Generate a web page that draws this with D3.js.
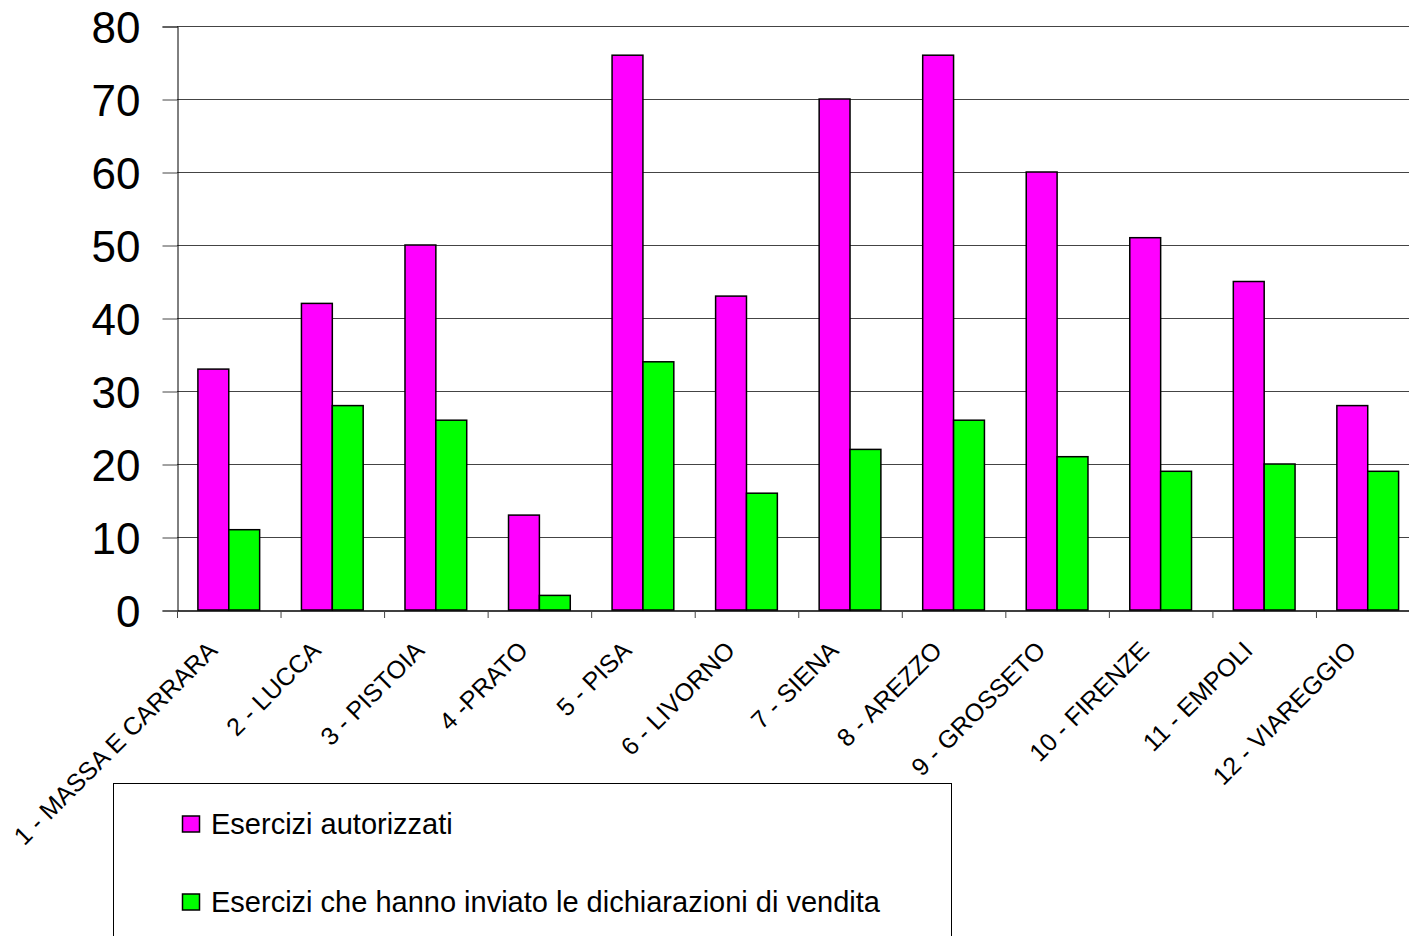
<!DOCTYPE html>
<html>
<head>
<meta charset="utf-8">
<script src="https://cdn.jsdelivr.net/npm/d3@7"></script>
<style>
  body { margin: 0; background: #fff; }
  text { font-family: Arial, "Liberation Sans", sans-serif; }
</style>
</head>
<body>
<script>
var categories = ["1 - MASSA E CARRARA", "2 - LUCCA", "3 - PISTOIA", "4 -PRATO", "5 - PISA",
  "6 - LIVORNO", "7 - SIENA", "8 - AREZZO", "9 - GROSSETO", "10 - FIRENZE", "11 - EMPOLI", "12 - VIAREGGIO"];
var autorizzati = [33, 42, 50, 13, 76, 43, 70, 76, 60, 51, 45, 28];
var dichiarazioni = [11, 28, 26, 2, 34, 16, 22, 26, 21, 19, 20, 19];
var seriesNames = ["Esercizi autorizzati", "Esercizi che hanno inviato le dichiarazioni di vendita"];
var seriesColors = ["#ff00ff", "#00ff00"];
var yTicks = [0, 10, 20, 30, 40, 50, 60, 70, 80];

window.onload = function() {
  var svg = d3.select("body").append("svg")
    .attr("width", 1409)
    .attr("height", 936);

  var left = 177, right = 1419.5, top = 26, bottom = 610;

  var xScale = d3.scaleBand().domain(categories).range([left, right]);
  var xInner = d3.scaleBand().domain([0, 1]).range([0, xScale.bandwidth()])
    .paddingInner(0).paddingOuter(0.677);
  var yScale = d3.scaleLinear().domain([0, 80]).range([bottom, top]);

  // gridlines
  svg.append("g").selectAll("line")
    .data(yTicks.filter(function(d) { return d > 0; }))
    .enter().append("line")
    .attr("x1", left).attr("x2", right)
    .attr("y1", function(d) { return yScale(d) + 0.5; })
    .attr("y2", function(d) { return yScale(d) + 0.5; })
    .attr("stroke", "#444").attr("stroke-width", 1);

  // y axis
  var yAxis = d3.axisLeft(yScale).tickValues(yTicks).tickSize(15).tickPadding(22);
  var gy = svg.append("g").attr("transform", "translate(" + (left + 0.5) + ",0.5)").call(yAxis);
  gy.select(".domain").attr("stroke", "#000");
  gy.selectAll(".tick line").attr("stroke", "#444");
  gy.selectAll(".tick text").attr("font-size", 44).attr("fill", "#000")
    .attr("font-family", "Arial, 'Liberation Sans', sans-serif").attr("dy", "0.36em");

  // bars
  var data = categories.map(function(c, i) {
    return { cat: c, vals: [autorizzati[i], dichiarazioni[i]] };
  });
  var groups = svg.append("g").selectAll("g")
    .data(data).enter().append("g")
    .attr("transform", function(d) { return "translate(" + xScale(d.cat) + ",0)"; });
  groups.selectAll("rect")
    .data(function(d) { return d.vals.map(function(v, k) { return { k: k, v: v }; }); })
    .enter().append("rect")
    .attr("x", function(d) { return xInner(d.k); })
    .attr("width", xInner.bandwidth())
    .attr("y", function(d) { return yScale(d.v); })
    .attr("height", function(d) { return bottom - yScale(d.v); })
    .attr("fill", function(d) { return seriesColors[d.k]; })
    .attr("stroke", "#000").attr("stroke-width", 1.5);

  // x axis
  var xAxis = d3.axisBottom(xScale).tickSize(0).tickFormat("");
  var gx = svg.append("g").attr("transform", "translate(0," + (bottom + 0.5) + ")").call(xAxis);
  gx.select(".domain").attr("stroke", "#000").attr("stroke-width", 1.5);
  // category boundary ticks
  svg.append("g").selectAll("line")
    .data(categories)
    .enter().append("line")
    .attr("x1", function(d) { return xScale(d) + 0.5; })
    .attr("x2", function(d) { return xScale(d) + 0.5; })
    .attr("y1", bottom).attr("y2", bottom + 8)
    .attr("stroke", "#444");

  // rotated category labels
  svg.append("g").selectAll("text")
    .data(categories)
    .enter().append("text")
    .attr("transform", function(d) {
      var cx = xScale(d) + xScale.bandwidth() / 2;
      return "translate(" + (cx - 10) + "," + (bottom + 42) + ") rotate(-45)";
    })
    .attr("text-anchor", "end")
    .attr("font-size", 25)
    .attr("fill", "#000")
    .text(function(d) { return d; });

  // legend
  var legend = svg.append("g");
  legend.append("rect")
    .attr("x", 113.5).attr("y", 783.5).attr("width", 838).attr("height", 200)
    .attr("fill", "#fff").attr("stroke", "#000").attr("stroke-width", 1);
  var rows = legend.selectAll("g.item")
    .data(seriesNames).enter().append("g")
    .attr("class", "item")
    .attr("transform", function(d, i) { return "translate(0," + (824 + i * 78) + ")"; });
  rows.append("rect")
    .attr("x", 182.5).attr("y", -8).attr("width", 17).attr("height", 16)
    .attr("fill", function(d, i) { return seriesColors[i]; })
    .attr("stroke", "#000").attr("stroke-width", 1.5);
  rows.append("text")
    .attr("x", 211).attr("y", 0).attr("dy", "0.36em")
    .attr("font-size", 29).attr("fill", "#000")
    .text(function(d) { return d; });
};
</script>
</body>
</html>
